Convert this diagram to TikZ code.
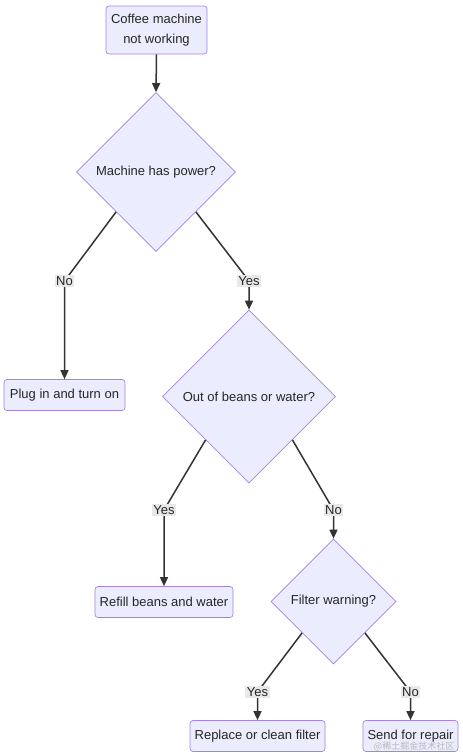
\documentclass[tikz,border=0pt]{standalone}
\usepackage{fontspec}
\setmainfont{Liberation Sans}
\newfontfamily\cjk{Noto Sans CJK SC}
\usetikzlibrary{shapes.geometric,arrows.meta}
\definecolor{boxfill}{HTML}{ECECFF}
\definecolor{boxline}{HTML}{9370DB}
\definecolor{lblfill}{HTML}{E8E8E8}
\definecolor{flowline}{HTML}{333333}

\begin{document}
\begin{tikzpicture}[x=1pt, y=-1pt, font=\fontsize{13}{19.5}\selectfont,
  every node/.style={align=center, text=black!85},
  stepbox/.style={draw=boxline!85, fill=boxfill, rounded corners=3pt, minimum height=31pt, inner sep=0pt, line width=0.7pt},
  choice/.style={diamond, aspect=1, draw=boxline!85, fill=boxfill, inner sep=0pt, line width=0.7pt},
  flow/.style={draw=flowline, line width=1.5pt, -{Triangle[length=9pt,width=8pt]}},
  lbl/.style={fill=lblfill, inner sep=1.5pt}]
  \useasboundingbox (0,0) rectangle (463,756);

  \node[stepbox, minimum width=101pt, minimum height=48pt] (start) at (156.5,30) {Coffee machine\\not working};
  \node[choice, minimum width=159pt, minimum height=159pt] (d1) at (156,172) {Machine has power?};
  \node[stepbox, minimum width=121pt] (plug) at (64.5,395) {Plug in and turn on};
  \node[choice, minimum width=173pt, minimum height=173pt] (d2) at (249,396.5) {Out of beans or water?};
  \node[stepbox, minimum width=138pt] (refill) at (164,602) {Refill beans and water};
  \node[choice, minimum width=125pt, minimum height=125pt] (d3) at (333.5,601.5) {Filter warning?};
  \node[stepbox, minimum width=135pt] (clean) at (257.5,736) {Replace or clean filter};
  \node[stepbox, minimum width=95pt] (repair) at (410.5,736) {Send for repair};

  % bends of the connectors
  \coordinate (kNo1) at (64.5,281);
  \coordinate (kYes1) at (249,281);
  \coordinate (kYes2) at (164,510);
  \coordinate (kNo2) at (333.5,510);
  \coordinate (kYes3) at (257.5,692);
  \coordinate (kNo3) at (410.5,692);

  \draw[flow] (start.south) -- (d1.north);
  \draw[flow] (d1.south west) -- (kNo1) node[lbl]{No} -- (plug.north);
  \draw[flow] (d1.south east) -- (kYes1) node[lbl]{Yes} -- (d2.north);
  \draw[flow] (d2.south west) -- (kYes2) node[lbl]{Yes} -- (refill.north);
  \draw[flow] (d2.south east) -- (kNo2) node[lbl]{No} -- (d3.north);
  \draw[flow] (d3.south west) -- (kYes3) node[lbl]{Yes} -- (clean.north);
  \draw[flow] (d3.south east) -- (kNo3) node[lbl]{No} -- (repair.north);

  \node[text=gray!55, font=\cjk\fontsize{9}{10}\selectfont] (mark) at (414,746) {@稀土掘金技术社区};
\end{tikzpicture}
\end{document}
